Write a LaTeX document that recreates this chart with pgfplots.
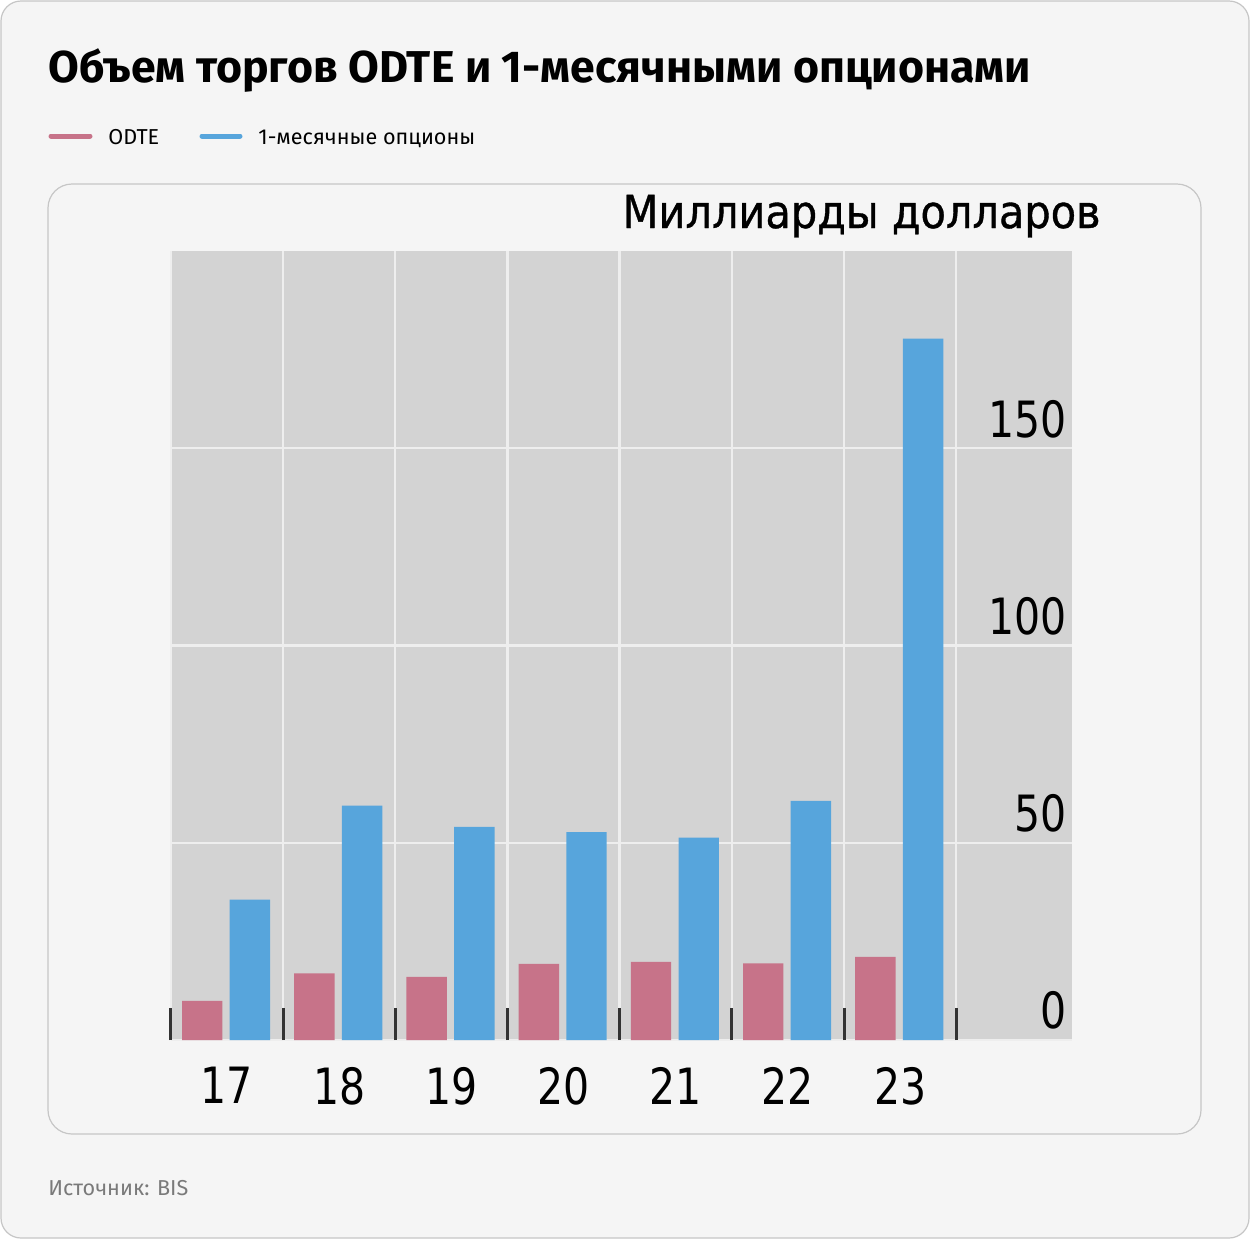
\documentclass[border=0pt]{standalone}
\usepackage{fontspec}
\setmainfont{Fira Sans}
\newfontfamily\chartfont[FakeStretch=0.82]{DejaVu Sans}
\newfontfamily\labelfont[FakeStretch=0.91,FakeBold=0.8]{DejaVu Sans}
\usepackage{pgfplots}
\pgfplotsset{compat=1.18}
\definecolor{cardbg}{HTML}{F5F5F5}
\definecolor{cardline}{HTML}{C6C6C6}
\definecolor{plotgrey}{HTML}{D3D3D3}
\definecolor{gridwhite}{HTML}{EEEEEE}
\definecolor{odte}{HTML}{C77389}
\definecolor{month}{HTML}{57A5DC}
\definecolor{tickdark}{HTML}{333333}
\definecolor{srcgrey}{HTML}{7A7A7A}

\begin{document}
\begin{tikzpicture}
% card, title, legend and source, in pixel units of the reference
\begin{scope}[x=0.5pt,y=-0.5pt]
  \useasboundingbox (0,0) rectangle (1250,1239);
  \fill[white] (0,0) rectangle (1250,1239);
  \draw[cardline, fill=cardbg, line width=0.6pt, rounded corners=10pt] (1,1) rectangle (1249,1238);
  \draw[cardline, fill=cardbg, line width=0.6pt, rounded corners=12pt] (48,184) rectangle (1201,1134);
  \node[anchor=base west, inner sep=0pt, font=\bfseries\fontsize{22.3}{22.3}\selectfont] at (48,82)
    {Объем торгов ODTE и 1-месячными опционами};
  \draw[odte, line width=2.5pt, line cap=round] (51,136) -- (90,136);
  \node[anchor=base west, inner sep=0pt, font=\fontsize{10.8}{10.8}\selectfont] at (108,144) {ODTE};
  \draw[month, line width=2.5pt, line cap=round] (202,136) -- (240,136);
  \node[anchor=base west, inner sep=0pt, font=\fontsize{10.8}{10.8}\selectfont] at (258,144) {1-месячные опционы};
  \node[anchor=base east, inner sep=0pt, font=\labelfont\fontsize{22.8}{22.8}\selectfont] at (1101,228)
    {Миллиарды долларов};
  \node[anchor=base west, inner sep=0pt, text=srcgrey, font=\fontsize{10.8}{10.8}\selectfont] at (48,1195)
    {Источник: BIS};
\end{scope}

\begin{axis}[
    at={(85.4pt,-520pt)}, anchor=south west,
    scale only axis,
    width=450.5pt, height=394.5pt,
    xmin=17, xmax=25.03,
    ymin=0, ymax=200,
    axis background/.style={fill=plotgrey},
    axis line style={draw=none},
    tick align=inside,
    xtick pos=bottom,
    xtick={17.5,18.5,19.5,20.5,21.5,22.5,23.5},
    xticklabels={17,18,19,20,21,22,23},
    minor xtick={17,18,19,20,21,22,23,24},
    major x tick style={draw=none},
    minor x tick style={draw=tickdark, line width=1.5pt},
    minor tick length=16pt,
    xmajorgrids=false, xminorgrids=true, ymajorgrids=true,
    grid style={gridwhite, line width=1.2pt},
    ytick={0,50,100,150},
    yticklabel pos=right,
    ytick style={draw=none},
    /pgf/number format/assume math mode=true,
    tick label style={font=\chartfont\fontsize{25}{25}\selectfont},
    xticklabel style={anchor=north, inner sep=0pt, yshift=-13.5pt},
    yticklabel style={anchor=south east, inner sep=0pt, xshift=-2.5pt, yshift=5pt},
]
\addplot[ybar, bar width=0.36, bar shift=0pt, fill=odte, draw=none]
    coordinates {(17.28,9.9) (18.28,16.9) (19.28,16.0) (20.28,19.3) (21.28,19.8) (22.28,19.4) (23.28,21.1)};
\addplot[ybar, bar width=0.36, bar shift=0pt, fill=month, draw=none]
    coordinates {(17.705,35.6) (18.705,59.4) (19.705,54.0) (20.705,52.7) (21.705,51.3) (22.705,60.6) (23.705,177.8)};
\end{axis}
\end{tikzpicture}
\end{document}
